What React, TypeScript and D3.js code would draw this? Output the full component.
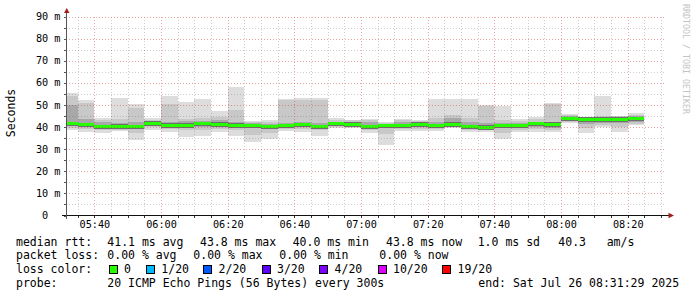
import React from "react";
import * as d3 from "d3";

// ---- data ----
const barStart = [
  "05:30", "05:35", "05:40", "05:45", "05:50", "05:55", "06:00", "06:05", "06:10", "06:15",
  "06:20", "06:25", "06:30", "06:35", "06:40", "06:45", "06:50", "06:55", "07:00", "07:05",
  "07:10", "07:15", "07:20", "07:25", "07:30", "07:35", "07:40", "07:45", "07:50", "07:55",
  "08:00", "08:05", "08:10", "08:15", "08:20",
];
const medianRtt = [
  41.5, 41.1, 40.2, 40.4, 40.2, 41.7, 40.9, 40.9, 41.4, 41.2,
  40.9, 40.6, 40.2, 40.6, 41.0, 40.2, 41.4, 41.3, 40.2, 40.6,
  40.5, 41.2, 40.6, 41.2, 40.2, 40.0, 40.6, 40.6, 41.4, 41.2,
  43.8, 43.5, 43.5, 43.6, 43.8,
];
const smokeMin = [
  38.6, 37.9, 37.5, 38.0, 34.1, 38.6, 37.9, 35.6, 36.0, 37.9,
  36.0, 33.3, 34.8, 38.0, 37.9, 35.9, 39.6, 39.4, 37.1, 31.8,
  38.2, 38.2, 38.2, 39.4, 37.6, 37.9, 34.8, 37.6, 37.9, 37.6,
  41.7, 37.1, 40.2, 37.9, 40.9,
];
const smokeLo2 = [
  39.5, 39.0, 38.6, 38.8, 37.5, 39.8, 39.2, 38.5, 38.8, 39.2,
  38.5, 36.5, 37.5, 39.0, 39.0, 38.5, 40.2, 40.0, 38.5, 37.0,
  39.0, 39.0, 39.0, 40.0, 38.6, 38.8, 37.5, 38.8, 39.0, 38.5,
  42.2, 39.5, 41.0, 40.0, 41.5,
];
const smokeLo1 = [
  40.4, 39.8, 39.4, 39.3, 39.2, 40.6, 40.0, 39.8, 40.2, 40.0,
  39.9, 39.6, 39.3, 39.8, 40.0, 39.5, 40.8, 40.7, 39.3, 39.5,
  39.6, 39.8, 39.8, 40.6, 39.4, 39.3, 39.6, 39.6, 40.0, 39.5,
  42.9, 41.5, 42.0, 42.0, 42.3,
];
const smokeHi1 = [
  50.0, 43.5, 42.2, 42.0, 42.5, 42.6, 42.5, 42.6, 42.8, 43.0,
  42.3, 41.8, 41.5, 42.0, 42.2, 42.0, 42.4, 42.3, 42.5, 41.6,
  42.5, 42.2, 42.2, 44.0, 42.5, 41.8, 41.8, 41.8, 42.5, 42.5,
  44.8, 44.2, 44.3, 44.4, 45.2,
];
const smokeHi2 = [
  54.0, 51.0, 43.4, 43.5, 48.5, 43.2, 50.3, 43.8, 44.0, 44.5,
  47.7, 42.3, 42.4, 52.3, 52.4, 52.4, 43.3, 43.0, 43.0, 42.0,
  43.2, 42.8, 44.0, 45.5, 44.0, 49.5, 43.0, 42.8, 43.8, 50.6,
  45.3, 44.5, 45.0, 44.8, 45.6,
];
const smokeMax = [
  55.5, 52.3, 44.2, 53.3, 50.3, 44.0, 54.1, 51.5, 52.6, 47.3,
  58.3, 42.7, 43.2, 52.7, 53.0, 53.0, 44.0, 43.3, 43.5, 42.4,
  43.8, 43.2, 52.7, 52.7, 52.7, 50.0, 49.5, 43.6, 44.7, 50.8,
  45.8, 44.7, 54.1, 45.2, 46.2,
];

const yMajorTicks = [0, 10, 20, 30, 40, 50, 60, 70, 80, 90];
const yTickLabels = ["0", "10 m", "20 m", "30 m", "40 m", "50 m", "60 m", "70 m", "80 m", "90 m"];
const yMinorTicks = [5, 15, 25, 35, 45, 55, 65, 75, 85];

const lossLabels = ["0", "1/20", "2/20", "3/20", "4/20", "10/20", "19/20"];
const lossColors = ["#26ff00", "#00b8ff", "#0059ff", "#5e00ff", "#7e00ff", "#dd00ff", "#ff0000"];

const rttStats = ["41.1 ms avg", "43.8 ms max", "40.0 ms min", "43.8 ms now", "1.0 ms sd", "40.3", "am/s"];
const lossStats = ["0.00 % avg", "0.00 % max", "0.00 % min", "0.00 % now"];
const probeText = "20 ICMP Echo Pings (56 Bytes) every 300s";
const endText = "end: Sat Jul 26 08:31:29 2025";

// ---- layout ----
const W = 697;
const H = 297;
const MONO = "'DejaVu Sans Mono', monospace";
const rttX = [107.3, 200, 292.7, 386, 477.7, 558.3, 606.7];
const lossX = [107.3, 193.3, 279.3, 379.3];
const boxX = [108.7, 146, 203.3, 261.7, 319.3, 377.7, 442.3];

const day = (s: string) => new Date("2025-07-26T" + s + (s.length === 5 ? ":00" : "") + "Z");

export default function App() {
  const x = d3.scaleUtc().domain([day("05:31:29"), day("08:31:29")]).range([66, 666]);
  const y = d3.scaleLinear().domain([0, 90]).range([215.5, 16.5]);
  const [x0, x1] = x.range();
  const yTop = y(90);
  const yBot = y(0);

  const major = d3.utcMinute.every(20)!.range(x.domain()[0], x.domain()[1]);
  const minor = d3.utcMinute.every(5)!.range(x.domain()[0], x.domain()[1]);
  const fmt = d3.utcFormat("%H:%M");

  const bars = barStart.map((s, i) => {
    const t0 = day(s);
    const t1 = d3.utcMinute.offset(t0, 5);
    const a = Math.max(x0, x(t0));
    const b = Math.min(x1, x(t1));
    return { a, b, i };
  });

  const band = (lo: number, hi: number) => ({ top: y(hi), h: y(lo) - y(hi) });

  const minorColor = "rgba(100,100,100,0.32)";
  const majorColor = "rgba(205,40,40,0.42)";
  const arrowColor = "#a31f1f";

  return (
    <svg width={W} height={H} style={{ position: "absolute", left: 0, top: 0, background: "#fff" }}>
      <rect x={0} y={0} width={W} height={H} fill="#fff" />

      {/* smoke */}
      <g shapeRendering="crispEdges">
        {bars.map(({ a, b, i }) => {
          const o = band(smokeMin[i], smokeMax[i]);
          const m = band(smokeLo2[i], smokeHi2[i]);
          const n = band(smokeLo1[i], smokeHi1[i]);
          const ym = y(medianRtt[i]);
          return (
            <g key={i}>
              <rect x={a} y={o.top} width={b - a} height={o.h} fill="#dddddd" />
              <rect x={a} y={m.top} width={b - a} height={m.h} fill="#c8c8c8" />
              <rect x={a} y={n.top} width={b - a} height={n.h} fill="#a8a8a8" />
              <rect x={a} y={ym - 2} width={b - a} height={4.5} fill="#6e6e6e" />
              <rect x={a} y={ym - 1.5} width={b - a} height={3} fill={lossColors[0]} />
            </g>
          );
        })}
      </g>

      {/* grid */}
      <g shapeRendering="crispEdges" strokeDasharray="1 2">
        {yMinorTicks.map((v) => (
          <line key={"hm" + v} x1={x0} x2={x1} y1={Math.round(y(v)) + 0.5} y2={Math.round(y(v)) + 0.5} stroke={minorColor} />
        ))}
        {minor
          .filter((t) => t.getUTCMinutes() % 20 !== 0)
          .map((t) => (
            <line key={"vm" + +t} x1={Math.round(x(t)) + 0.5} x2={Math.round(x(t)) + 0.5} y1={yTop} y2={yBot} stroke={minorColor} />
          ))}
        {yMajorTicks.slice(1).map((v) => (
          <line key={"hM" + v} x1={x0} x2={x1} y1={Math.round(y(v)) + 0.5} y2={Math.round(y(v)) + 0.5} stroke={majorColor} />
        ))}
        {major.map((t) => (
          <line key={"vM" + +t} x1={Math.round(x(t)) + 0.5} x2={Math.round(x(t)) + 0.5} y1={yTop} y2={yBot} stroke={majorColor} />
        ))}
      </g>

      {/* axes */}
      <g shapeRendering="crispEdges">
        <line x1={62} x2={669} y1={215.5} y2={215.5} stroke="#111" />
        <line x1={66.5} x2={66.5} y1={219} y2={12} stroke="#555" />
        {minor.map((t) => (
          <line key={"xt" + +t} x1={Math.round(x(t)) + 0.5} x2={Math.round(x(t)) + 0.5} y1={215.5} y2={218} stroke="#333" />
        ))}
        {[...yMajorTicks, ...yMinorTicks].map((v) => (
          <line key={"yt" + v} x1={63.5} x2={66.5} y1={Math.round(y(v)) + 0.5} y2={Math.round(y(v)) + 0.5} stroke="#555" />
        ))}
      </g>
      <polygon points="64,13 69.5,13 66.75,8" fill={arrowColor} />
      <polygon points="668.5,212.75 668.5,218.25 674,215.5" fill={arrowColor} />

      {/* y labels */}
      <g fontFamily={MONO} fontSize={10.2} fill="#000">
        {yMajorTicks.map((v, i) => (
          <text key={"yl" + v} x={v === 0 ? 60.5 - 2 * 6.14 : 60.5} y={y(v) + 3.6} textAnchor="end">
            {yTickLabels[i]}
          </text>
        ))}
        {major.map((t) => (
          <text key={"xl" + +t} x={x(t) + 0.5} y={228} textAnchor="middle">
            {fmt(t)}
          </text>
        ))}
      </g>

      <text
        transform={`translate(14.5,113) rotate(-90)`}
        textAnchor="middle"
        fontFamily={MONO}
        fontSize={11.5}
        fill="#000"
      >
        Seconds
      </text>

      <text transform="translate(683,4) rotate(90)" fontFamily={MONO} fontSize={8.3} fill="#c4c4c4">
        RRDTOOL / TOBI OETIKER
      </text>

      {/* legend */}
      <g fontFamily={MONO} fontSize={11.5} fill="#000">
        <text x={16} y={245.5}>median rtt:</text>
        {rttStats.map((s, i) => (
          <text key={"r" + i} x={rttX[i]} y={245.5}>{s}</text>
        ))}
        <text x={16} y={259}>packet loss:</text>
        {lossStats.map((s, i) => (
          <text key={"l" + i} x={lossX[i]} y={259}>{s}</text>
        ))}
        <text x={16} y={272.7}>loss color:</text>
        {lossLabels.map((s, i) => (
          <g key={"c" + i}>
            <rect x={Math.round(boxX[i]) + 0.5} y={265.5} width={8} height={8} fill={lossColors[i]} stroke="#000" shapeRendering="crispEdges" />
            <text x={boxX[i] + 15.3} y={272.7}>{s}</text>
          </g>
        ))}
        <text x={16} y={286.5}>probe:</text>
        <text x={107.3} y={286.5}>{probeText}</text>
        <text x={478.3} y={286.5}>{endText}</text>
      </g>
    </svg>
  );
}
